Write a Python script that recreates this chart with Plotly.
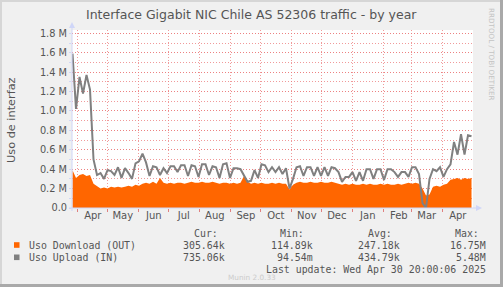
import pandas as pd
import plotly.graph_objects as go

# ---------------- data ----------------
title = "Interface Gigabit NIC Chile AS 52306 traffic - by year"
y_title = "Uso de interfaz"
series_start = "2024-03-27 05:00"
step_hours = 84  # half-week samples

# Uso Upload (IN), in millions
upload = [
    1.59, 1.02, 1.35, 1.18, 1.37, 1.22, 0.50, 0.34, 0.36, 0.30,
    0.39, 0.38, 0.34, 0.42, 0.31, 0.41, 0.36, 0.30, 0.46, 0.48,
    0.56, 0.47, 0.33, 0.43, 0.42, 0.34, 0.41, 0.36, 0.43, 0.43,
    0.37, 0.44, 0.44, 0.33, 0.44, 0.43, 0.32, 0.45, 0.45, 0.34,
    0.43, 0.42, 0.31, 0.45, 0.46, 0.31, 0.41, 0.41, 0.40, 0.34,
    0.27, 0.28, 0.39, 0.31, 0.45, 0.44, 0.37, 0.42, 0.37, 0.42,
    0.35, 0.41, 0.20, 0.30, 0.42, 0.43, 0.33, 0.42, 0.42, 0.33,
    0.42, 0.33, 0.42, 0.33, 0.42, 0.41, 0.37, 0.27, 0.32, 0.32,
    0.37, 0.28, 0.37, 0.28, 0.40, 0.40, 0.30, 0.40, 0.40, 0.29,
    0.40, 0.40, 0.37, 0.32, 0.37, 0.37, 0.32, 0.42, 0.42, 0.35,
    0.05, 0.00, 0.30, 0.40, 0.38, 0.42, 0.32, 0.40, 0.45, 0.68,
    0.55, 0.76, 0.55, 0.75, 0.74,
]

# Uso Download (OUT), in millions
download = [
    0.39, 0.31, 0.34, 0.35, 0.33, 0.34, 0.25, 0.22, 0.20, 0.21,
    0.20, 0.22, 0.21, 0.22, 0.21, 0.22, 0.23, 0.22, 0.24, 0.23,
    0.25, 0.26, 0.25, 0.27, 0.25, 0.31, 0.26, 0.25, 0.26, 0.25,
    0.26, 0.26, 0.25, 0.26, 0.27, 0.26, 0.26, 0.27, 0.26, 0.26,
    0.27, 0.26, 0.25, 0.26, 0.26, 0.25, 0.26, 0.25, 0.26, 0.33,
    0.27, 0.25, 0.26, 0.25, 0.26, 0.25, 0.25, 0.26, 0.25, 0.26,
    0.25, 0.25, 0.19, 0.24, 0.26, 0.27, 0.26, 0.26, 0.27, 0.26,
    0.26, 0.27, 0.26, 0.26, 0.27, 0.26, 0.25, 0.24, 0.25, 0.24,
    0.25, 0.24, 0.24, 0.25, 0.24, 0.25, 0.24, 0.24, 0.25, 0.24,
    0.25, 0.24, 0.24, 0.25, 0.24, 0.25, 0.26, 0.25, 0.26, 0.25,
    0.20, 0.13, 0.14, 0.22, 0.23, 0.22, 0.24, 0.25, 0.29, 0.30,
    0.31, 0.29, 0.31, 0.30, 0.31,
]

month_starts = ["2024-04-01", "2024-05-01", "2024-06-01", "2024-07-01",
                "2024-08-01", "2024-09-01", "2024-10-01", "2024-11-01",
                "2024-12-01", "2025-01-01", "2025-02-01", "2025-03-01",
                "2025-04-01"]
month_labels = ["Apr", "May", "Jun", "Jul", "Aug", "Sep", "Oct", "Nov",
                "Dec", "Jan", "Feb", "Mar", "Apr"]

y_ticks = [0.0, 0.2, 0.4, 0.6, 0.8, 1.0, 1.2, 1.4, 1.6, 1.8]
y_tick_labels = ["0.0", "0.2 M", "0.4 M", "0.6 M", "0.8 M", "1.0 M",
                 "1.2 M", "1.4 M", "1.6 M", "1.8 M"]

legend_names = ["Uso Download (OUT)", "Uso Upload (IN)"]
legend_colors = ["#ff6600", "#808080"]
stat_headers = ["Cur:", "Min:", "Avg:", "Max:"]
cur_vals = ["305.64k", "735.06k"]
min_vals = ["114.89k", "94.54m"]
avg_vals = ["247.18k", "434.79k"]
max_vals = ["16.75M", "5.48M"]
last_update = "Last update: Wed Apr 30 20:00:06 2025"
munin_ver = "Munin 2.0.33"
rrd_credit = "RRDTOOL / TOBI OETIKER"

# ---------------- layout constants ----------------
W, H = 503, 287
L, R, T, B = 72, 30, 30, 79
PW, PH = W - L - R, H - T - B
x_range = ["2024-03-26 16:48", "2025-05-01 16:48"]
y_max = 1.834

def px(x):
    return (x - L) / PW

def py(y):
    return (H - B - y) / PH

dates = pd.date_range(series_start, periods=len(upload), freq=f"{step_hours}h")
label_pos = [pd.Timestamp(m) + pd.Timedelta(hours=15 * 24 + 12) for m in month_starts]

fig = go.Figure()
fig.add_trace(go.Scatter(
    x=dates, y=[v * 1e6 for v in download], mode="lines",
    line=dict(width=0, color=legend_colors[0]), fill="tozeroy",
    fillcolor=legend_colors[0], showlegend=False, hoverinfo="skip"))
fig.add_trace(go.Scatter(
    x=dates, y=[v * 1e6 for v in upload], mode="lines",
    line=dict(width=2, color=legend_colors[1]), showlegend=False,
    hoverinfo="skip"))

grid_col = "rgba(235,120,120,0.75)"
axis_col = "#cfd6f8"
font_col = "#555555"

fig.update_layout(
    width=W, height=H,
    margin=dict(l=L, r=R, t=T, b=B, pad=0),
    paper_bgcolor="#f0f0f0", plot_bgcolor="#ffffff",
    font=dict(family="DejaVu Sans", color=font_col, size=10),
    xaxis=dict(
        type="date", range=x_range, showgrid=False, zeroline=False,
        showline=False, tickmode="array", tickvals=label_pos,
        ticktext=month_labels, ticks="", tickfont=dict(size=10, color=font_col),
        minor=dict(tickmode="array", tickvals=month_starts, showgrid=True,
                   gridcolor=grid_col, griddash="1px,2px", gridwidth=1,
                   ticks="outside", ticklen=3, tickcolor="#e08080"),
    ),
    yaxis=dict(
        range=[0, y_max * 1e6], showgrid=True, gridcolor=grid_col,
        griddash="1px,2px", gridwidth=1, zeroline=False, showline=False,
        tickmode="array", tickvals=[v * 1e6 for v in y_ticks],
        ticktext=y_tick_labels, ticks="outside", ticklen=2,
        tickcolor=axis_col, tickfont=dict(size=9.8, color=font_col),
        minor=dict(dtick=1e5, tick0=0, showgrid=True, gridcolor=grid_col,
                   griddash="1px,2px", gridwidth=1, ticks="outside",
                   ticklen=2, tickcolor=axis_col),
    ),
)

shapes = []
# axis lines with arrows
shapes.append(dict(type="line", xref="paper", yref="paper",
                   x0=px(72), x1=px(72), y0=py(211), y1=py(27),
                   line=dict(color=axis_col, width=1), layer="above"))
shapes.append(dict(type="path", xref="paper", yref="paper",
                   path=f"M {px(69)} {py(28)} L {px(75)} {py(28)} L {px(72)} {py(22)} Z",
                   fillcolor=axis_col, line=dict(width=0), layer="above"))
shapes.append(dict(type="line", xref="paper", yref="paper",
                   x0=px(69), x1=px(477), y0=py(208), y1=py(208),
                   line=dict(color=axis_col, width=1), layer="above"))
shapes.append(dict(type="path", xref="paper", yref="paper",
                   path=f"M {px(476)} {py(205)} L {px(476)} {py(211)} L {px(482)} {py(208)} Z",
                   fillcolor=axis_col, line=dict(width=0), layer="above"))
# image border
shapes.append(dict(type="rect", xref="paper", yref="paper",
                   x0=px(0), x1=px(2), y0=py(H), y1=py(0),
                   fillcolor="#d6d6d6", line=dict(width=0)))
shapes.append(dict(type="rect", xref="paper", yref="paper",
                   x0=px(0), x1=px(W), y0=py(2), y1=py(0),
                   fillcolor="#d6d6d6", line=dict(width=0)))
shapes.append(dict(type="rect", xref="paper", yref="paper",
                   x0=px(W - 3), x1=px(W), y0=py(H), y1=py(0),
                   fillcolor="#a9a9a9", line=dict(width=0)))
shapes.append(dict(type="rect", xref="paper", yref="paper",
                   x0=px(0), x1=px(W), y0=py(H), y1=py(H - 3),
                   fillcolor="#a9a9a9", line=dict(width=0)))
# legend swatches
for i, c in enumerate(legend_colors):
    yc = 245 + i * 12.3
    shapes.append(dict(type="rect", xref="paper", yref="paper",
                       x0=px(14), x1=px(19.5), y0=py(yc + 2.8), y1=py(yc - 2.8),
                       fillcolor=c, line=dict(width=0)))
fig.update_layout(shapes=shapes)

ann = []
def text(x, y, s, size, color=font_col, family="DejaVu Sans", xanchor="center", angle=0):
    ann.append(dict(x=px(x), y=py(y), xref="paper", yref="paper", text=s,
                    showarrow=False, xanchor=xanchor, yanchor="middle",
                    textangle=angle,
                    font=dict(size=size, color=color, family=family)))

mono = "DejaVu Sans Mono"
text(251, 14, title, 12.5)
text(11, 120, y_title, 11.3, angle=-90)
text(492, 54, rrd_credit, 7.2, color="#c4c4c4", angle=90)
header_x = [191.5, 278, 366, 452.5]
for hx, hs in zip(header_x, stat_headers):
    text(hx, 233.3, hs, 9.9, family=mono, xanchor="left")
val_right = [226.7, 315, 401.7, 488.3]
for i in range(2):
    yc = 245 + i * 12.3
    text(26.5, yc, legend_names[i], 9.9, family=mono, xanchor="left")
    for xr, vals in zip(val_right, [cur_vals, min_vals, avg_vals, max_vals]):
        text(xr, yc, vals[i], 9.9, family=mono, xanchor="right")
text(488.3, 269.3, last_update, 9.9, family=mono, xanchor="right")
text(251.7, 277, munin_ver, 7.3, color="#cccccc")
fig.update_layout(annotations=ann)

fig.write_html("out.html", config={"displayModeBar": False})
